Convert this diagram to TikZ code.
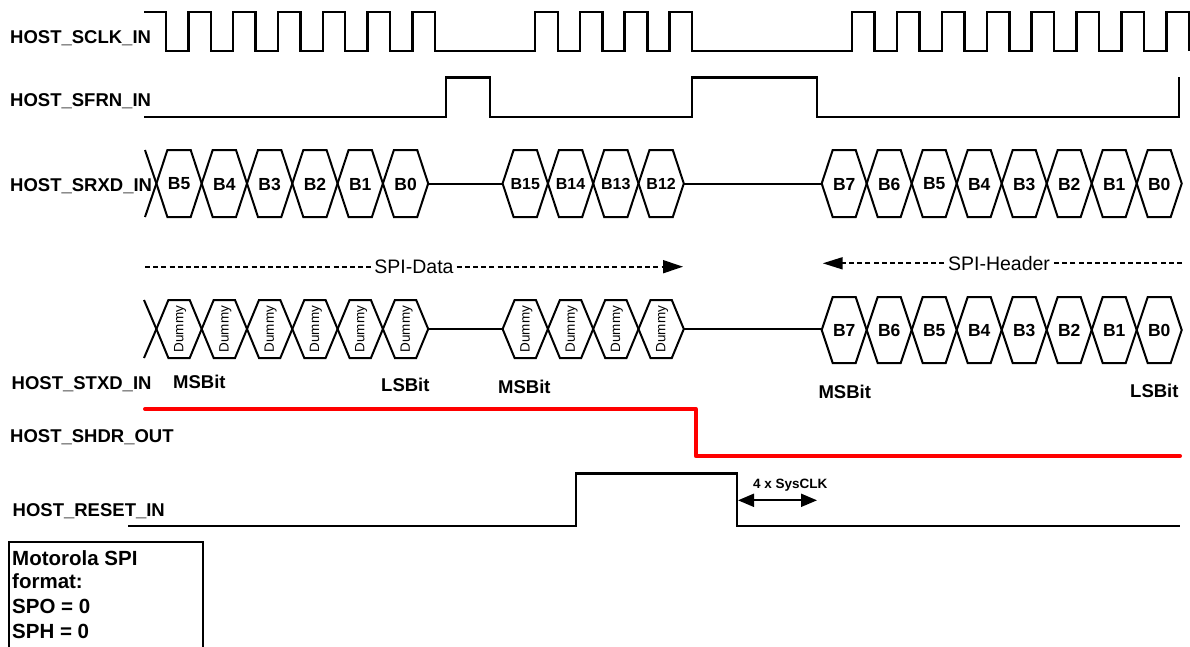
\documentclass[tikz,border=0pt]{standalone}
\usepackage{fontspec}
\setmainfont{Liberation Sans}
\usetikzlibrary{arrows.meta}
\begin{document}
\begin{tikzpicture}[x=1pt,y=-1pt,
  lbl/.style={font=\fontsize{18.5}{20}\selectfont\bfseries, inner sep=0pt, anchor=base west},
  blbl/.style={font=\fontsize{17.5}{19}\selectfont\bfseries, inner sep=0pt},
  bblbl/.style={font=\fontsize{16}{18}\selectfont\bfseries, inner sep=0pt},
  dummytxt/.style={font=\fontsize{13.5}{15}\selectfont, inner sep=0pt, rotate=90},
  boxtxt/.style={font=\fontsize{20.5}{22}\selectfont\bfseries, inner sep=0pt, anchor=base west},
  spitxt/.style={font=\fontsize{19.5}{21}\selectfont, inner sep=1.5pt, fill=white},
  sig/.style={line width=2.4pt, line join=miter, black},
  bus/.style={line width=2pt, line join=miter, black},
  hdr/.style={line width=4pt, red, line cap=round, line join=round},
  dline/.style={line width=1.8pt, dash pattern=on 5pt off 3.2pt},
]
\useasboundingbox (0,0) rectangle (1190,646);

% ---------- labels ----------
\node[lbl] (lsclk) at (10,43.3) {HOST\_SCLK\_IN};
\node[lbl] (lsfrn) at (10,106.7) {HOST\_SFRN\_IN};
\node[lbl] (lsrxd) at (10,191.7) {HOST\_SRXD\_IN};
\node[lbl] (lstxd) at (11.5,389.3) {HOST\_STXD\_IN};
\node[lbl] (lshdr) at (10,442.7) {HOST\_SHDR\_OUT};
\node[lbl] (lreset) at (12.5,516) {HOST\_RESET\_IN};

% ---------- SCLK ----------
\draw[sig] (144,11.7) -- (166,11.7) -- (166,50.7)
  \foreach \r in {188.3,233.1,277.9,322.7,367.5,412.3} { -- (\r,50.7) -- (\r,11.7) -- ({\r+22.5},11.7) -- ({\r+22.5},50.7) }
  \foreach \r in {535.2,579.9,624.6,669.3} { -- (\r,50.7) -- (\r,11.7) -- ({\r+22.7},11.7) -- ({\r+22.7},50.7) }
  \foreach \r in {852,896.9,941.8,986.7,1031.6,1076.5,1121.4,1166.3} { -- (\r,50.7) -- (\r,11.7) -- ({\r+22.6},11.7) -- ({\r+22.6},50.7) };

% ---------- SFRN ----------
\draw[sig] (144,116.7) -- (446,116.7) -- (446,77.3) -- (490,77.3) -- (490,116.7)
  -- (692,116.7) -- (692,77.3) -- (817,77.3) -- (817,116.7) -- (1179,116.7) -- (1179,77.3);

% ---------- SRXD ----------
\draw[bus] (145,150) -- (156.4,183.5) -- (145,217);
\foreach \lab [count=\i from 0] in {B5,B4,B3,B2,B1,B0} {
  \pgfmathsetmacro\xl{156.4+45.3*\i}
  \pgfmathsetmacro\xr{\xl+45.3}
  \draw[bus] (\xl,183.5) -- ({\xl+11},150) -- ({\xr-11},150) -- (\xr,183.5) -- ({\xr-11},217) -- ({\xl+11},217) -- cycle;
  \node[blbl] (rxa\i) at ({(\xl+\xr)/2},184) {\lab};
}
\draw[bus] (428.3,183.5) -- (502.6,183.5);
\foreach \lab [count=\i from 0] in {B15,B14,B13,B12} {
  \pgfmathsetmacro\xl{502.6+45.3*\i}
  \pgfmathsetmacro\xr{\xl+45.3}
  \draw[bus] (\xl,183.5) -- ({\xl+11},150) -- ({\xr-11},150) -- (\xr,183.5) -- ({\xr-11},217) -- ({\xl+11},217) -- cycle;
  \node[bblbl] (rxb\i) at ({(\xl+\xr)/2},184) {\lab};
}
\draw[bus] (683.8,183.5) -- (821.7,183.5);
\foreach \lab [count=\i from 0] in {B7,B6,B5,B4,B3,B2,B1,B0} {
  \pgfmathsetmacro\xl{821.7+45*\i}
  \pgfmathsetmacro\xr{\xl+45}
  \draw[bus] (\xl,183.5) -- ({\xl+11},150) -- ({\xr-11},150) -- (\xr,183.5) -- ({\xr-11},217) -- ({\xl+11},217) -- cycle;
  \node[blbl] (rxc\i) at ({(\xl+\xr)/2},184) {\lab};
}

% ---------- SPI-Data / SPI-Header ----------
\coordinate (da) at (145,266.7);
\coordinate (db) at (683,266.7);
\draw[dline,-{Triangle[length=20pt,width=13pt]}] (da) -- (db);
\node[spitxt] (spidata) at (414,266.7) {SPI-Data};
\coordinate (ha) at (1182,263.3);
\coordinate (hb) at (822.7,263.3);
\draw[dline,-{Triangle[length=20pt,width=12pt]}] (ha) -- (hb);
\node[spitxt] (spihdr) at (999,263.3) {SPI-Header};

% ---------- STXD ----------
\draw[bus] (144,300) -- (156.4,329) -- (144,358);
\foreach \i in {0,...,5} {
  \pgfmathsetmacro\xl{156.4+45.3*\i}
  \pgfmathsetmacro\xr{\xl+45.3}
  \draw[bus] (\xl,329) -- ({\xl+12},300) -- ({\xr-12},300) -- (\xr,329) -- ({\xr-12},358) -- ({\xl+12},358) -- cycle;
  \node[dummytxt] (txa\i) at ({(\xl+\xr)/2+1},329) {Dummy};
}
\draw[bus] (428.3,329) -- (502.6,329);
\foreach \i in {0,...,3} {
  \pgfmathsetmacro\xl{502.6+45.3*\i}
  \pgfmathsetmacro\xr{\xl+45.3}
  \draw[bus] (\xl,329) -- ({\xl+12},300) -- ({\xr-12},300) -- (\xr,329) -- ({\xr-12},358) -- ({\xl+12},358) -- cycle;
  \node[dummytxt] (txb\i) at ({(\xl+\xr)/2+1},329) {Dummy};
}
\draw[bus] (683.8,329) -- (821.7,329);
\foreach \lab [count=\i from 0] in {B7,B6,B5,B4,B3,B2,B1,B0} {
  \pgfmathsetmacro\xl{821.7+45*\i}
  \pgfmathsetmacro\xr{\xl+45}
  \draw[bus] (\xl,330) -- ({\xl+11},297) -- ({\xr-11},297) -- (\xr,330) -- ({\xr-11},363) -- ({\xl+11},363) -- cycle;
  \node[blbl] (txc\i) at ({(\xl+\xr)/2},330.5) {\lab};
}

\node[lbl] (msb1) at (173,388.3) {MSBit};
\node[lbl] (lsb1) at (381,391) {LSBit};
\node[lbl] (msb2) at (498,393.5) {MSBit};
\node[lbl] (msb3) at (818.3,398) {MSBit};
\node[lbl] (lsb2) at (1130,397) {LSBit};

% ---------- SHDR ----------
\draw[hdr] (145,409) -- (695.7,409) -- (695.7,456) -- (1180,456);

% ---------- RESET ----------
\draw[sig] (128,526) -- (575.7,526) -- (575.7,473.3) -- (736.7,473.3) -- (736.7,526) -- (1180,526);
\coordinate (sa) at (738,500.3);
\coordinate (sb) at (817,500.3);
\draw[line width=2pt, {Triangle[length=16pt,width=13pt]}-{Triangle[length=16pt,width=13pt]}] (sa) -- (sb);
\node[font=\fontsize{13.5}{15}\selectfont\bfseries, inner sep=0pt, anchor=base west] (sysclk) at (753,488) {4 x SysCLK};

% ---------- info box ----------
\draw[line width=2pt] (9.3,541.7) rectangle (202.7,665);
\node[boxtxt] (b1) at (12,565) {Motorola SPI};
\node[boxtxt] (b2) at (12,588.5) {format:};
\node[boxtxt] (b3) at (12,613) {SPO = 0};
\node[boxtxt] (b4) at (12,638) {SPH = 0};
\end{tikzpicture}
\end{document}
